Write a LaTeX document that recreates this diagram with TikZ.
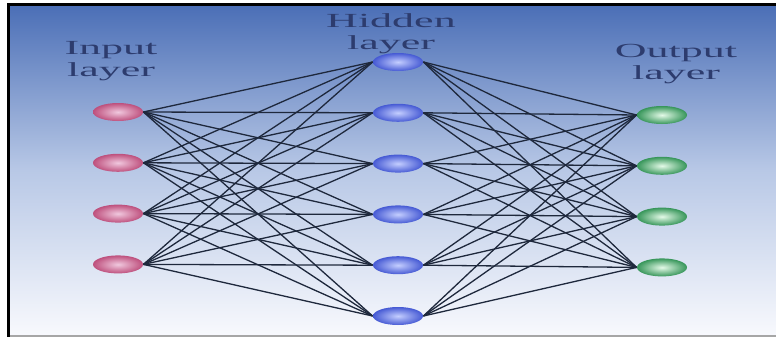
\documentclass[tikz,border=0pt]{standalone}
\usepackage{fontspec}
\setmainfont{Liberation Serif}
\usetikzlibrary{shapes.geometric,positioning}

\definecolor{bgtop}{RGB}{74,110,182}
\definecolor{bgmid}{RGB}{184,200,230}
\definecolor{bgbot}{RGB}{248,249,253}
\definecolor{labtxt}{RGB}{45,60,110}
\definecolor{linkcol}{RGB}{30,40,60}
\definecolor{inpout}{RGB}{190,80,125}
\definecolor{inpin}{RGB}{240,200,222}
\definecolor{hidout}{RGB}{70,90,212}
\definecolor{hidin}{RGB}{196,206,255}
\definecolor{outout}{RGB}{55,150,90}
\definecolor{outin}{RGB}{228,250,232}

\newcommand{\widelbl}[1]{\scalebox{2.2}[1]{#1}}

\begin{document}
\begin{tikzpicture}[
x=0.5pt, y=0.5pt,
node distance=16pt and 0pt,
neuron/.style={ellipse, minimum width=25pt, minimum height=9pt, inner sep=0pt, shading=radial},
innode/.style={neuron, inner color=inpin, outer color=inpout},
hidnode/.style={neuron, inner color=hidin, outer color=hidout},
outnode/.style={neuron, inner color=outin, outer color=outout},
caption/.style={font=\fontsize{10}{11}\selectfont, text=labtxt, align=center, inner sep=0pt},
link/.style={draw=linkcol, line width=0.65pt}
]
\useasboundingbox (0,0) rectangle (776,-337);
% background and frame
\fill[top color=bgtop, bottom color=bgbot, middle color=bgmid] (8,-4) rectangle (776,-336);
\draw[gray!70, line width=1pt] (8,-336) -- (776,-336);
\draw[line width=1.5pt] (8,-337) -- (8,-4) -- (776,-4);

% layer captions
\node[caption] (incap) at (111,-61.5) {\widelbl{Input}\\\widelbl{layer}};
\node[caption] (hidcap) at (391,-33.5) {\widelbl{Hidden}\\\widelbl{layer}};
\node[caption] (outcap) at (676,-64.5) {\widelbl{Output}\\\widelbl{layer}};

% input layer
\node[innode] (in1) at (118,-112) {};
\node[innode, below=of in1] (in2) {};
\node[innode, below=of in2] (in3) {};
\node[innode, below=of in3] (in4) {};

% hidden layer
\node[hidnode] (hid1) at (398,-62) {};
\node[hidnode, below=of hid1] (hid2) {};
\node[hidnode, below=of hid2] (hid3) {};
\node[hidnode, below=of hid3] (hid4) {};
\node[hidnode, below=of hid4] (hid5) {};
\node[hidnode, below=of hid5] (hid6) {};

% output layer
\node[outnode] (out1) at (662,-115) {};
\node[outnode, below=of out1] (out2) {};
\node[outnode, below=of out2] (out3) {};
\node[outnode, below=of out3] (out4) {};

% full connections
\foreach \i in {1,...,4}
  \foreach \h in {1,...,6}
    \draw[link] (in\i.east) -- (hid\h.west);
\foreach \h in {1,...,6}
  \foreach \o in {1,...,4}
    \draw[link] (hid\h.east) -- (out\o.west);
\end{tikzpicture}
\end{document}
